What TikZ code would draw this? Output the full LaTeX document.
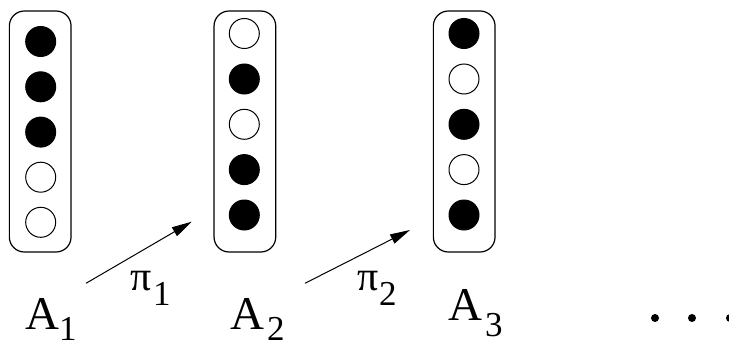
\documentclass[tikz,border=0pt]{standalone}
\usepackage{fontspec}
\setmainfont{Liberation Serif}
\newfontfamily\tnr{Liberation Serif}
\usetikzlibrary{arrows.meta}
\begin{document}
\begin{tikzpicture}[x=1pt,y=-1pt,
  frame/.style={draw, rounded corners=15pt, line width=1.2pt, minimum width=61.7pt, minimum height=241pt, inner sep=0pt},
  full/.style={circle, draw, fill=black, line width=1pt, minimum size=30pt, inner sep=0pt},
  hollow/.style={circle, draw, fill=white, line width=1pt, minimum size=30pt, inner sep=0pt},
  big/.style={inner sep=0pt, outer sep=0pt, anchor=base west, font=\tnr\fontsize{47}{50}\selectfont},
  sub/.style={inner sep=0pt, outer sep=0pt, anchor=base west, font=\tnr\fontsize{35}{40}\selectfont},
  greek/.style={inner sep=0pt, outer sep=0pt, anchor=base west, font=\tnr\fontsize{42}{45}\selectfont},
  arr/.style={-{Triangle[length=20pt,width=10pt]}, line width=1pt}]
\useasboundingbox (0,0) rectangle (729,343);

% boxes
\node[frame] (b1) at (40.2,131.5) {};
\node[frame] (b2) at (244.9,131.5) {};
\node[frame] (b3) at (464.2,131.5) {};

% box 1 cells
\node[full]   (c11) at (40.7,41.5) {};
\node[full]   (c12) at (40.7,86.8) {};
\node[full]   (c13) at (40.7,132.1) {};
\node[hollow] (c14) at (40.7,177.2) {};
\node[hollow] (c15) at (40.7,222.3) {};

% box 2 cells
\node[hollow] (c21) at (244.3,33.5) {};
\node[full]   (c22) at (244.3,79) {};
\node[hollow] (c23) at (244.3,124.3) {};
\node[full]   (c24) at (244.3,169.6) {};
\node[full]   (c25) at (244.3,215) {};

% box 3 cells
\node[full]   (c31) at (464,33.5) {};
\node[hollow] (c32) at (464,79) {};
\node[full]   (c33) at (464,124.3) {};
\node[hollow] (c34) at (464,169.6) {};
\node[full]   (c35) at (464,215) {};

% labels
\node[big] (A1) at (25,329) {A};
\node[sub] (s1) at (59,340.5) {1};
\node[big] (A2) at (230.5,329) {A};
\node[sub] (s2) at (267,340.5) {2};
\node[big] (A3) at (448,320) {A};
\node[sub] (s3) at (485,336) {3};

\node[greek] (p1) at (130,290) {π};
\node[sub] (q1) at (153,305) {1};
\node[greek] (p2) at (357.5,290) {π};
\node[sub] (q2) at (379,305.5) {2};

% arrows
\coordinate (a1s) at (86,283.3);
\coordinate (a1e) at (191.7,221.7);
\coordinate (a2s) at (305,283.3);
\coordinate (a2e) at (410,230);
\draw[arr] (a1s) -- (a1e);
\draw[arr] (a2s) -- (a2e);

% ellipsis
\fill (655,318) circle (4pt);
\fill (692,318) circle (4pt);
\fill (730,318) circle (4pt);
\end{tikzpicture}
\end{document}
